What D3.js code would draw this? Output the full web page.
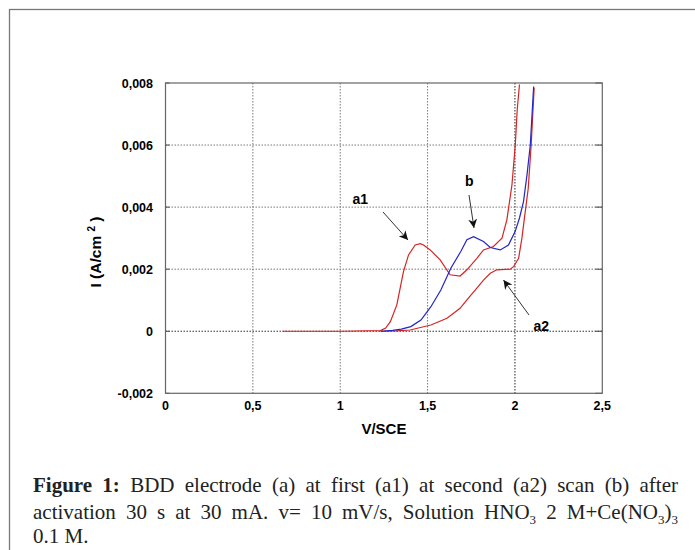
<!DOCTYPE html>
<html><head><meta charset="utf-8">
<script src="https://cdn.jsdelivr.net/npm/d3@7/dist/d3.min.js"></script>
<style>
html,body{margin:0;padding:0;background:#fff;}
svg{display:block;}
</style></head>
<body>
<svg id="chart" width="695" height="550"></svg>
<script>
// ---- data (V vs SCE, current density A/cm2) ----
const a1V = [0.67,1.0,1.23,1.26,1.287,1.324,1.362,1.391,1.429,1.458,1.477,1.515,1.572,1.629,1.686,1.725,1.782,1.820,1.877,1.926,1.954,1.983,2.002,2.013,2.026];
const a1I = [0,0,0.00002,0.00010,0.00031,0.00085,0.00192,0.00246,0.00278,0.00282,0.00278,0.00262,0.00230,0.00182,0.00178,0.00198,0.00235,0.00262,0.00273,0.00300,0.00360,0.00472,0.00601,0.00714,0.00795];
const bV = [1.234,1.30,1.35,1.404,1.462,1.519,1.576,1.633,1.690,1.725,1.763,1.820,1.859,1.916,1.963,2.001,2.026,2.049,2.069,2.088,2.107];
const bI = [0,0.00003,0.00007,0.00015,0.00036,0.00079,0.00133,0.00203,0.00257,0.00295,0.00305,0.00289,0.00270,0.00262,0.00278,0.00321,0.00365,0.00418,0.00504,0.00601,0.00789];
const a2V = [1.23,1.32,1.40,1.519,1.611,1.686,1.725,1.782,1.820,1.859,1.897,1.973,1.992,2.021,2.040,2.053,2.076,2.093,2.110];
const a2I = [0,0.00001,0.00004,0.00020,0.00042,0.00074,0.00101,0.00139,0.00165,0.00187,0.00198,0.00200,0.00208,0.00235,0.00300,0.00359,0.00460,0.00601,0.00785];
const xTicks = [0,0.5,1,1.5,2,2.5];
const xTickLabels = ["0","0,5","1","1,5","2","2,5"];
const yTicks = [-0.002,0,0.002,0.004,0.006,0.008];
const yTickLabels = ["-0,002","0","0,002","0,004","0,006","0,008"];

const svg = d3.select("#chart");
// outer figure frame
svg.append("rect").attr("x",9.5).attr("y",9.5).attr("width",720).attr("height",600)
  .attr("fill","none").attr("stroke","#777").attr("stroke-width",1.3);

const L=165.5, R=602.3, T=83, B=393.3;
const x = d3.scaleLinear().domain([0,2.5]).range([L,R]);
const y = d3.scaleLinear().domain([-0.002,0.008]).range([B,T]);

const g = svg.append("g");
// gridlines
g.selectAll(".vg").data(xTicks.slice(1,-1)).join("line")
  .attr("x1",d=>x(d)).attr("x2",d=>x(d)).attr("y1",T).attr("y2",B)
  .attr("stroke",d=>d===2?"#222":"#777").attr("stroke-width",1).attr("stroke-dasharray","1.5,1.5");
g.selectAll(".hg").data(yTicks.slice(1,-1)).join("line")
  .attr("y1",d=>y(d)).attr("y2",d=>y(d)).attr("x1",L).attr("x2",R)
  .attr("stroke",d=>d===0?"#333":"#777").attr("stroke-width",1).attr("stroke-dasharray","1.5,1.5");
// small inner ticks
g.selectAll(".rt").data(yTicks).join("line")
  .attr("x1",R-7).attr("x2",R).attr("y1",d=>y(d)).attr("y2",d=>y(d)).attr("stroke","#444");
g.selectAll(".lt").data(yTicks).join("line")
  .attr("x1",L).attr("x2",L+4).attr("y1",d=>y(d)).attr("y2",d=>y(d)).attr("stroke","#444");
// plot frame
g.append("rect").attr("x",L).attr("y",T).attr("width",R-L).attr("height",B-T)
  .attr("fill","none").attr("stroke","#666").attr("stroke-width",1.2);

// axes labels
const tickFont = "'Liberation Sans', Arial, sans-serif";
g.selectAll(".yl").data(yTicks).join("text")
  .attr("x",L-12.5).attr("y",d=>y(d)+4.5).attr("text-anchor","end")
  .attr("font-family",tickFont).attr("font-weight","bold").attr("font-size",12.5)
  .text((d,i)=>yTickLabels[i]);
g.selectAll(".xl").data(xTicks).join("text")
  .attr("x",d=>x(d)).attr("y",B+16.5).attr("text-anchor","middle")
  .attr("font-family",tickFont).attr("font-weight","bold").attr("font-size",12.5)
  .text((d,i)=>xTickLabels[i]);
svg.append("text").attr("x",(L+R)/2).attr("y",434).attr("text-anchor","middle")
  .attr("font-family",tickFont).attr("font-weight","bold").attr("font-size",15).text("V/SCE");
const yt = svg.append("text").attr("transform","translate(101,252) rotate(-90)").attr("text-anchor","middle")
  .attr("font-family",tickFont).attr("font-weight","bold").attr("font-size",15.5);
yt.append("tspan").text("I (A/cm ");
yt.append("tspan").attr("font-size",10).attr("dy",-6).text("2");
yt.append("tspan").attr("dy",6).text(" )");

// curves
const line = d3.line().x(d=>x(d[0])).y(d=>y(d[1]));
const series = [
  {v:a1V, i:a1I, c:"#d62424"},
  {v:a2V, i:a2I, c:"#d62424"},
  {v:bV, i:bI, c:"#2424c8"}
];
series.forEach(s=>{
  g.append("path").datum(s.v.map((v,k)=>[v,s.i[k]]))
   .attr("d",line).attr("fill","none").attr("stroke",s.c).attr("stroke-width",1.2);
});

// annotations
const defs = svg.append("defs");
defs.append("marker").attr("id","ah").attr("viewBox","0 0 10 10").attr("refX",10).attr("refY",5)
  .attr("markerWidth",9).attr("markerHeight",9).attr("markerUnits","userSpaceOnUse").attr("orient","auto")
  .append("path").attr("d","M0,0 L10,5 L0,10 L3,5 Z").attr("fill","#111");
const anns = [
  {t:"a1", tx:352.5, ty:203.5, x1:383, y1:212, x2:408, y2:240},
  {t:"b", tx:465, ty:185.5, x1:469, y1:195, x2:474, y2:228},
  {t:"a2", tx:533.5, ty:331, x1:529, y1:315, x2:503.5, y2:280}
];
anns.forEach(a=>{
  svg.append("line").attr("x1",a.x1).attr("y1",a.y1).attr("x2",a.x2).attr("y2",a.y2)
    .attr("stroke","#333").attr("stroke-width",1).attr("marker-end","url(#ah)");
  svg.append("text").attr("x",a.tx).attr("y",a.ty).attr("font-family",tickFont)
    .attr("font-weight","bold").attr("font-size",14).text(a.t);
});

// caption (justified by word placement)
const capFont = "'Liberation Serif', 'Times New Roman', serif";
const capLines = [
  {y:492, justify:true, words:[
    [{t:"Figure",b:1}],[{t:"1:",b:1}],[{t:"BDD"}],[{t:"electrode"}],[{t:"(a)"}],[{t:"at"}],[{t:"first"}],
    [{t:"(a1)"}],[{t:"at"}],[{t:"second"}],[{t:"(a2)"}],[{t:"scan"}],[{t:"(b)"}],[{t:"after"}]]},
  {y:519, justify:true, words:[
    [{t:"activation"}],[{t:"30"}],[{t:"s"}],[{t:"at"}],[{t:"30"}],[{t:"mA."}],[{t:"v="}],[{t:"10"}],[{t:"mV/s,"}],
    [{t:"Solution"}],[{t:"HNO"},{t:"3",sub:1}],[{t:"2"}],[{t:"M+Ce(NO"},{t:"3",sub:1},{t:")"},{t:"3",sub:1}]]},
  {y:543, justify:false, words:[[{t:"0.1"}],[{t:"M."}]]}
];
const capL=33, capR=678;
function buildWords(ln, size){
  return ln.words.map(w=>{
    const te = svg.append("text").attr("y",ln.y).attr("font-family",capFont).attr("font-size",size).attr("fill","#222");
    let prevSub=false;
    w.forEach(seg=>{
      const ts = te.append("tspan").text(seg.t);
      if(seg.b) ts.attr("font-weight","bold");
      if(seg.sub) ts.attr("font-size",size*0.62);
      if(seg.sub && !prevSub) ts.attr("dy",size*0.22);
      else if(!seg.sub && prevSub) ts.attr("dy",-size*0.22);
      prevSub=!!seg.sub;
    });
    return te;
  });
}
// determine font size so that line 2 fits with natural spacing
const base = 19;
const probe = buildWords(capLines[1], base);
const pw = d3.sum(probe.map(n=>n.node().getComputedTextLength()));
probe.forEach(n=>n.remove());
const nat = pw + (capLines[1].words.length-1)*base*0.3;
const capSize = Math.min(21, base*(capR-capL)/nat);

capLines.forEach(ln=>{
  const nodes = buildWords(ln, capSize);
  const widths = nodes.map(n=>n.node().getComputedTextLength());
  const total = d3.sum(widths);
  const gap = ln.justify ? (capR-capL-total)/(nodes.length-1) : capSize*0.25;
  let cx = capL;
  nodes.forEach((n,i)=>{ n.attr("x",cx); cx += widths[i]+gap; });
});
</script>
</body></html>
